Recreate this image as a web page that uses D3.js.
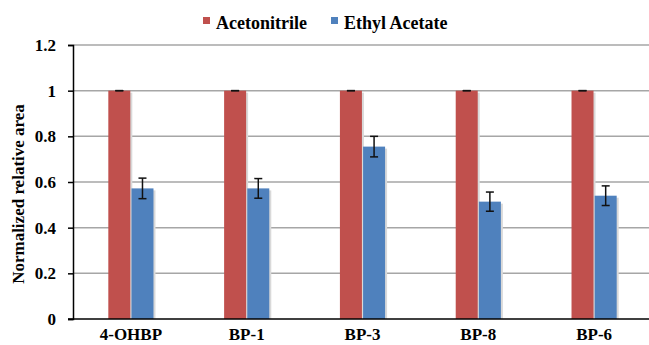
<!DOCTYPE html>
<html>
<head>
<meta charset="utf-8">
<script src="https://cdn.jsdelivr.net/npm/d3@7"></script>
<style>
  body { margin: 0; background: #fff; }
  svg text { font-family: 'Liberation Serif', serif !important; font-weight: bold; fill: #000; }
</style>
</head>
<body>
<svg id="chart" width="649" height="345"></svg>
<script>
// data
const categories = ['4-OHBP', 'BP-1', 'BP-3', 'BP-8', 'BP-6']
const seriesNames = ['Acetonitrile', 'Ethyl Acetate']
const acetonitrile = [1, 1, 1, 1, 1]
const acetonitrileErr = [0, 0, 0, 0, 0]
const ethylAcetate = [0.572, 0.572, 0.755, 0.514, 0.540]
const ethylAcetateErr = [0.045, 0.043, 0.045, 0.042, 0.043]
const yTicks = [0, 0.2, 0.4, 0.6, 0.8, 1, 1.2]
const colors = ['#C0504D', '#4F81BD']

const svg = d3.select('#chart')
const margin = { left: 73, right: -3, top: 45, bottom: 26 }
const width = 649, height = 345

// x scale for the groups, then one for the bars inside a group
const x = d3.scaleBand()
  .domain(categories)
  .range([margin.left, width - margin.right])
  .paddingInner(0.61)
  .paddingOuter(0.305)
const xInner = d3.scaleBand()
  .domain(seriesNames)
  .range([0, x.bandwidth()])
  .paddingInner(0.05)

const y = d3.scaleLinear()
  .domain([0, 1.2])
  .range([height - margin.bottom, margin.top])

// gridlines
svg.append('g')
  .selectAll('line')
  .data(yTicks.filter(d => d > 0))
  .join('line')
  .attr('x1', margin.left)
  .attr('x2', width)
  .attr('y1', d => y(d))
  .attr('y2', d => y(d))
  .attr('stroke', '#a6a6a6')
  .attr('stroke-width', 1.5)

// rows for each bar
const rows = []
categories.forEach((c, i) => {
  rows.push({ cat: c, s: seriesNames[0], v: acetonitrile[i], e: acetonitrileErr[i], k: 0 })
  rows.push({ cat: c, s: seriesNames[1], v: ethylAcetate[i], e: ethylAcetateErr[i], k: 1 })
})

// soft shadow on the right of each bar
svg.append('g')
  .selectAll('rect')
  .data(rows)
  .join('rect')
  .attr('x', d => x(d.cat) + xInner(d.s) + 2)
  .attr('y', d => y(d.v) + 2)
  .attr('width', xInner.bandwidth())
  .attr('height', d => y(0) - y(d.v) - 2)
  .attr('fill', '#d9d9d9')

svg.append('g')
  .selectAll('rect')
  .data(rows)
  .join('rect')
  .attr('x', d => x(d.cat) + xInner(d.s))
  .attr('y', d => y(d.v))
  .attr('width', xInner.bandwidth())
  .attr('height', d => y(0) - y(d.v))
  .attr('fill', d => colors[d.k])

// error bars
const err = svg.append('g')
  .attr('stroke', '#111')
  .attr('stroke-width', 1.5)
  .selectAll('g')
  .data(rows)
  .join('g')
  .attr('transform', d => `translate(${x(d.cat) + xInner(d.s) + xInner.bandwidth() / 2},0)`)
err.append('line')
  .attr('y1', d => y(d.v + d.e))
  .attr('y2', d => y(d.v - d.e))
err.append('line')
  .attr('x1', -4).attr('x2', 4)
  .attr('y1', d => y(d.v + d.e))
  .attr('y2', d => y(d.v + d.e))
err.append('line')
  .attr('x1', -4).attr('x2', 4)
  .attr('y1', d => y(d.v - d.e))
  .attr('y2', d => y(d.v - d.e))

// y axis
const yAxis = svg.append('g')
  .attr('transform', `translate(${margin.left},0)`)
  .call(d3.axisLeft(y).tickValues(yTicks).tickFormat(d => d3.format('')(d)).tickSize(5).tickPadding(12))
yAxis.attr('font-family', null).attr('font-size', null)
yAxis.select('.domain').attr('stroke', '#000').attr('stroke-width', 1.5)
yAxis.selectAll('.tick line').attr('stroke', '#000').attr('stroke-width', 1.5)
yAxis.selectAll('text').style('font-size', '17px')

// x axis
const xAxis = svg.append('g')
  .attr('transform', `translate(0,${y(0)})`)
  .call(d3.axisBottom(x).tickSize(0).tickPadding(9))
xAxis.attr('font-family', null).attr('font-size', null)
xAxis.select('.domain').attr('stroke', '#000').attr('stroke-width', 1.5)
  .attr('d', `M${margin.left - 5},0H${width}`)
xAxis.selectAll('text').style('font-size', '17px')

// y axis title
svg.append('text')
  .attr('transform', `translate(24,${(y(0) + y(1.2)) / 2 + 12}) rotate(-90)`)
  .attr('text-anchor', 'middle')
  .style('font-size', '17px')
  .text('Normalized relative area')

// legend
const legend = svg.append('g')
const legendX = [203, 331]
seriesNames.forEach((name, i) => {
  legend.append('rect')
    .attr('x', legendX[i])
    .attr('y', 17)
    .attr('width', 7)
    .attr('height', 7)
    .attr('fill', colors[i])
  legend.append('text')
    .attr('x', legendX[i] + 13)
    .attr('y', 29)
    .style('font-size', '18px')
    .text(name === 'Ethyl Acetate' ? 'Ethyl\u2009Acetate' : name)
})
</script>
</body>
</html>
